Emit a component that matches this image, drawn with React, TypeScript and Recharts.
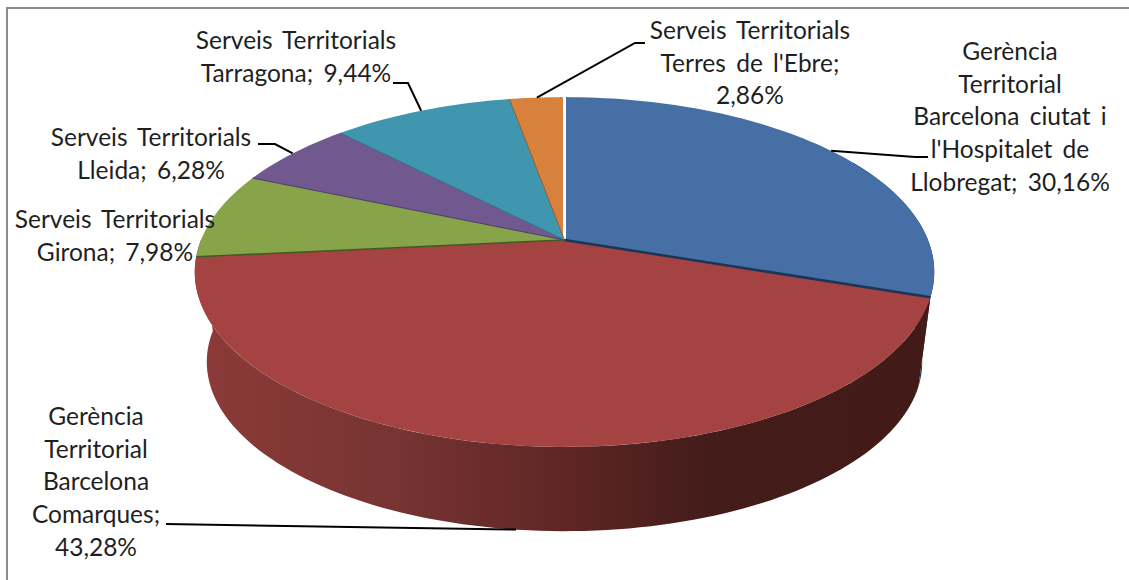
import React from 'react';
import { PieChart, Pie } from 'recharts';

// Slice names and shares (%), clockwise from 12 o'clock
const sliceNames = [
  "Gerència Territorial Barcelona ciutat i l'Hospitalet de Llobregat",
  'Gerència Territorial Barcelona Comarques',
  'Serveis Territorials Girona',
  'Serveis Territorials Lleida',
  'Serveis Territorials Tarragona',
  "Serveis Territorials Terres de l'Ebre",
];
const sliceValues = [30.16, 43.28, 7.98, 6.28, 9.44, 2.86];

const labelLines = [
  ['Gerència', 'Territorial', 'Barcelona ciutat i', "l'Hospitalet de", 'Llobregat; 30,16%'],
  ['Gerència', 'Territorial', 'Barcelona', 'Comarques;', '43,28%'],
  ['Serveis Territorials', 'Girona; 7,98%'],
  ['Serveis Territorials', 'Lleida; 6,28%'],
  ['Serveis Territorials', 'Tarragona; 9,44%'],
  ['Serveis Territorials', "Terres de l'Ebre;", '2,86%'],
];

const faceColors = ['#456fa5', '#a44341', '#87a44b', '#71588f', '#4096ae', '#d8813d'];
const wallColors = ['#17365a', 'url(#redWall)', '#4f6128', '#3f3151', '#215968', '#984807'];
const edgeColors = ['#ffffff', '#1c3557', '#3f5a22', '#4b3a63', '#2d6d80', '#8f5a30'];
const edgeWidths = [3, 2.5, 1.5, 1, 1, 1];

// Label placement: centre x, first line centre y
const labelX = [1010, 96, 115, 151, 296, 750];
const labelY = [52, 417, 220, 138, 41, 31];
const LINE_HEIGHT = 32.7;

// Leader lines from the rim out to the text: elbow + end, null = no leader
const leaderPoints: (number[][] | null)[] = [
  [[915, 157], [928, 157]],
  [[166, 524]],
  null,
  [[275, 144], [258, 144]],
  [[408, 83], [393, 83]],
  [[635, 43], [645, 43]],
];

const data = sliceNames.map((name, i) => ({
  name,
  value: sliceValues[i],
  index: i,
}));

// Perspective of the tilted disc
const TILT = 0.183;
const Y_RATIO = 0.465;
const FLOOR_SCALE = 0.9675;
const FLOOR_DROP = 91;

const project = (cx: number, cy: number, r: number, clockDeg: number, floor = false) => {
  const t = (clockDeg * Math.PI) / 180;
  const u = Math.sin(t);
  const v = -Math.cos(t);
  const d = 1 - TILT * v;
  const dx = (r * u) / d;
  const dy = (r * Y_RATIO * v) / d;
  return floor
    ? { x: cx + FLOOR_SCALE * dx, y: cy + FLOOR_DROP + FLOOR_SCALE * dy }
    : { x: cx + dx, y: cy + dy };
};

const arc = (cx: number, cy: number, r: number, from: number, to: number, floor = false) => {
  const n = Math.max(2, Math.ceil(Math.abs(to - from) / 1.5));
  const pts = [];
  for (let i = 0; i <= n; i++) {
    const p = project(cx, cy, r, from + ((to - from) * i) / n, floor);
    pts.push(`${p.x.toFixed(2)} ${p.y.toFixed(2)}`);
  }
  return pts;
};

// recharts angles are counter-clockwise from 3 o'clock
const toClock = (angle: number) => 90 - angle;

const WallShape = (props: any) => {
  const { cx, cy, outerRadius, startAngle, endAngle, index } = props;
  const start = toClock(startAngle);
  const end = toClock(endAngle);
  // slices at the back have no visible wall
  if (start > 250 || end < 60) return null;
  const lo = Math.max(start, 60);
  // the front slice carries the wall round to the left silhouette
  const hi = end > 250 ? 270 : end;
  const top = arc(cx, cy, outerRadius, lo, hi);
  const bottom = arc(cx, cy, outerRadius, hi, lo, true);
  return <path d={`M${top.join('L')}L${bottom.join('L')}Z`} fill={wallColors[index]} />;
};

const FaceShape = (props: any) => {
  const { cx, cy, outerRadius, startAngle, endAngle, index } = props;
  const rim = arc(cx, cy, outerRadius, toClock(startAngle), toClock(endAngle));
  return <path d={`M${cx} ${cy}L${rim.join('L')}Z`} fill={faceColors[index]} />;
};

const EdgeShape = (props: any) => {
  const { cx, cy, outerRadius, startAngle, index } = props;
  const p = project(cx, cy, outerRadius, toClock(startAngle));
  return (
    <line x1={cx} y1={cy} x2={p.x} y2={p.y} stroke={edgeColors[index]} strokeWidth={edgeWidths[index]} />
  );
};

const SliceLabel = (props: any) => {
  const { cx, cy, outerRadius, midAngle, index } = props;
  const clock = toClock(midAngle);
  const onFloor = clock > 90 && clock < 270;
  const from = project(cx, cy, outerRadius, clock, onFloor);
  const leader = leaderPoints[index];
  return (
    <g>
      {leader && (
        <polyline
          points={[[from.x, from.y], ...leader].map((p) => p.join(',')).join(' ')}
          fill="none"
          stroke="#000000"
          strokeWidth={2}
        />
      )}
      <text
        textAnchor="middle"
        fontFamily="Lato, sans-serif"
        fontSize={24.5}
        wordSpacing={4}
        fill="#1f1f1f"
      >
        {labelLines[index].map((line, i) => (
          <tspan key={i} x={labelX[index]} y={labelY[index] + i * LINE_HEIGHT + 8}>
            {line}
          </tspan>
        ))}
      </text>
    </g>
  );
};

const pieProps = {
  data,
  dataKey: 'value',
  nameKey: 'name',
  cx: 564.5,
  cy: 240,
  innerRadius: 0,
  outerRadius: 363.5,
  startAngle: 90,
  endAngle: -270,
  stroke: 'none',
  isAnimationActive: false,
};

const App = () => (
  <div style={{ position: 'absolute', left: 0, top: 0, width: 1129, height: 580, background: '#ffffff', overflow: 'hidden' }}>
    <div
      style={{
        position: 'absolute',
        left: 6,
        top: 7,
        width: 1129,
        height: 580,
        borderLeft: '2px solid #8c8c8c',
        borderTop: '2px solid #8c8c8c',
      }}
    />
    <div style={{ position: 'absolute', left: 0, top: 0 }}>
      <PieChart width={1129} height={580} margin={{ top: 0, right: 0, bottom: 0, left: 0 }}>
        <defs>
          <linearGradient id="redWall" gradientUnits="userSpaceOnUse" x1="205" y1="0" x2="920" y2="0">
            <stop offset="0" stopColor="#8b3a38" />
            <stop offset="0.27" stopColor="#763432" />
            <stop offset="0.5" stopColor="#5f2625" />
            <stop offset="0.7" stopColor="#441c1a" />
            <stop offset="1" stopColor="#421a17" />
          </linearGradient>
        </defs>
        <Pie {...pieProps} shape={WallShape} />
        <Pie {...pieProps} shape={FaceShape} />
        <Pie {...pieProps} shape={EdgeShape} label={SliceLabel} labelLine={false} />
      </PieChart>
    </div>
  </div>
);

export default App;
